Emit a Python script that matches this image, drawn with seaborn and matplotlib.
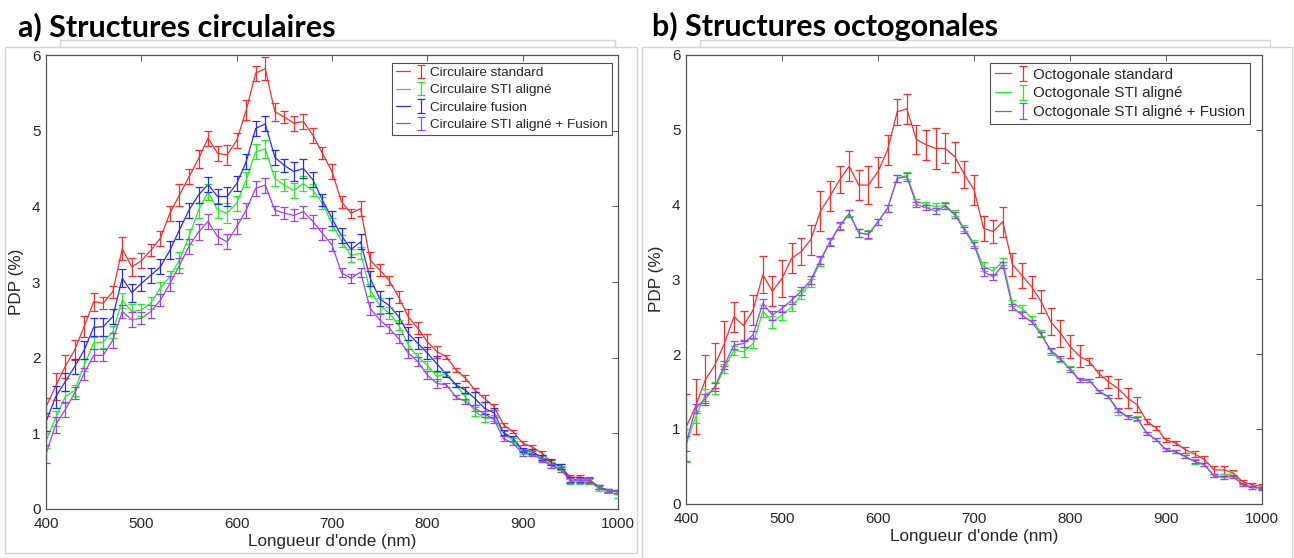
import numpy as np
import pandas as pd
import matplotlib
matplotlib.use("Agg")
import matplotlib.pyplot as plt
from matplotlib.lines import Line2D
from matplotlib.legend_handler import HandlerTuple
import seaborn as sns

# Longueurs d'onde (nm)
WAVELENGTHS = list(range(400, 1010, 10))

# a) Structures circulaires
CIRC_LABELS = ["Circulaire standard", "Circulaire STI aligné",
               "Circulaire fusion", "Circulaire STI aligné + Fusion"]
circ_standard = [1.35, 1.62, 1.88, 2.10, 2.41, 2.74, 2.72, 2.87, 3.44, 3.20,
                 3.28, 3.42, 3.58, 3.91, 4.15, 4.39, 4.63, 4.90, 4.70, 4.68,
                 4.87, 5.27, 5.76, 5.82, 5.25, 5.18, 5.10, 5.12, 4.94, 4.70,
                 4.46, 4.06, 3.91, 3.97, 3.29, 3.16, 3.02, 2.80, 2.54, 2.39,
                 2.21, 2.08, 2.01, 1.84, 1.73, 1.57, 1.46, 1.35, 1.11, 1.02,
                 0.87, 0.82, 0.74, 0.62, 0.56, 0.42, 0.42, 0.39, 0.29, 0.25, 0.23]
circ_standard_err = [0.12, 0.18, 0.15, 0.13, 0.14, 0.12, 0.08, 0.08, 0.15, 0.12,
                     0.10, 0.08, 0.10, 0.10, 0.14, 0.10, 0.12, 0.10, 0.10, 0.13,
                     0.10, 0.13, 0.10, 0.15, 0.12, 0.08, 0.10, 0.10, 0.10, 0.08,
                     0.10, 0.08, 0.06, 0.10, 0.10, 0.08, 0.06, 0.08, 0.10, 0.08,
                     0.10, 0.08, 0.03, 0.03, 0.04, 0.03, 0.05, 0.04, 0.03, 0.02,
                     0.03, 0.03, 0.03, 0.03, 0.03, 0.03, 0.03, 0.03, 0.03, 0.02, 0.02]
circ_sti = [0.90, 1.20, 1.48, 1.57, 1.90, 2.19, 2.21, 2.34, 2.76, 2.61,
            2.63, 2.72, 2.92, 3.07, 3.29, 3.60, 3.95, 4.19, 3.95, 3.91,
            4.04, 4.35, 4.72, 4.76, 4.37, 4.28, 4.21, 4.30, 4.21, 4.04,
            3.77, 3.54, 3.35, 3.38, 2.89, 2.69, 2.59, 2.43, 2.17, 2.01,
            1.90, 1.75, 1.79, 1.64, 1.48, 1.29, 1.20, 1.20, 1.00, 0.91,
            0.76, 0.75, 0.67, 0.58, 0.54, 0.36, 0.36, 0.36, 0.27, 0.23, 0.18]
circ_sti_err = [0.10, 0.10, 0.08, 0.07, 0.08, 0.08, 0.08, 0.08, 0.10, 0.10,
                0.08, 0.08, 0.08, 0.08, 0.10, 0.10, 0.10, 0.10, 0.10, 0.13,
                0.10, 0.10, 0.10, 0.12, 0.10, 0.08, 0.10, 0.10, 0.08, 0.08,
                0.08, 0.08, 0.08, 0.08, 0.08, 0.10, 0.08, 0.07, 0.06, 0.05,
                0.05, 0.06, 0.03, 0.03, 0.04, 0.06, 0.05, 0.04, 0.03, 0.03,
                0.03, 0.03, 0.03, 0.04, 0.03, 0.03, 0.03, 0.03, 0.03, 0.02, 0.03]
circ_fusion = [1.15, 1.48, 1.68, 1.88, 2.10, 2.40, 2.41, 2.54, 3.05, 2.86,
               2.98, 3.09, 3.20, 3.42, 3.69, 3.95, 4.15, 4.29, 4.13, 4.13,
               4.30, 4.59, 5.03, 5.09, 4.65, 4.54, 4.46, 4.50, 4.35, 4.08,
               3.84, 3.61, 3.43, 3.53, 3.05, 2.78, 2.69, 2.54, 2.32, 2.19,
               2.06, 1.92, 1.78, 1.64, 1.57, 1.46, 1.33, 1.27, 1.01, 0.93,
               0.78, 0.76, 0.68, 0.62, 0.56, 0.39, 0.39, 0.38, 0.29, 0.24, 0.23]
circ_fusion_err = [0.12, 0.14, 0.12, 0.10, 0.12, 0.12, 0.12, 0.10, 0.12, 0.12,
                   0.10, 0.10, 0.10, 0.12, 0.12, 0.10, 0.10, 0.10, 0.10, 0.12,
                   0.10, 0.10, 0.10, 0.10, 0.10, 0.08, 0.12, 0.12, 0.10, 0.08,
                   0.10, 0.10, 0.10, 0.10, 0.10, 0.10, 0.10, 0.08, 0.08, 0.08,
                   0.08, 0.10, 0.03, 0.03, 0.04, 0.08, 0.08, 0.06, 0.03, 0.03,
                   0.03, 0.03, 0.03, 0.04, 0.03, 0.03, 0.03, 0.03, 0.03, 0.02, 0.02]
circ_sti_fusion = [0.73, 1.11, 1.31, 1.53, 1.79, 2.03, 2.03, 2.23, 2.61, 2.50,
                   2.52, 2.61, 2.76, 2.98, 3.22, 3.47, 3.66, 3.80, 3.60, 3.53,
                   3.73, 3.95, 4.24, 4.28, 3.95, 3.91, 3.88, 3.93, 3.80, 3.64,
                   3.49, 3.12, 3.05, 3.13, 2.65, 2.50, 2.39, 2.25, 2.06, 1.95,
                   1.77, 1.66, 1.64, 1.48, 1.42, 1.33, 1.26, 1.18, 0.93, 0.87,
                   0.73, 0.73, 0.65, 0.57, 0.52, 0.38, 0.38, 0.38, 0.29, 0.24, 0.23]
circ_sti_fusion_err = [0.12, 0.10, 0.10, 0.08, 0.08, 0.08, 0.08, 0.10, 0.08, 0.10,
                       0.08, 0.08, 0.08, 0.10, 0.10, 0.10, 0.10, 0.10, 0.10, 0.10,
                       0.10, 0.10, 0.10, 0.10, 0.06, 0.08, 0.08, 0.08, 0.08, 0.08,
                       0.08, 0.06, 0.06, 0.06, 0.08, 0.08, 0.06, 0.06, 0.06, 0.06,
                       0.05, 0.06, 0.03, 0.03, 0.03, 0.04, 0.04, 0.04, 0.03, 0.03,
                       0.03, 0.03, 0.03, 0.03, 0.03, 0.03, 0.03, 0.03, 0.03, 0.02, 0.02]

# b) Structures octogonales
OCTO_LABELS = ["Octogonale standard", "Octogonale STI aligné",
               "Octogonale STI aligné + Fusion"]
octo_standard = [1.02, 1.30, 1.65, 1.85, 2.14, 2.50, 2.38, 2.59, 3.06, 2.84,
                 3.01, 3.28, 3.37, 3.53, 3.91, 4.11, 4.33, 4.51, 4.26, 4.26,
                 4.44, 4.73, 5.24, 5.28, 4.87, 4.80, 4.75, 4.75, 4.64, 4.40,
                 4.20, 3.68, 3.64, 3.77, 3.20, 3.05, 2.90, 2.70, 2.43, 2.28,
                 2.10, 1.97, 1.90, 1.74, 1.63, 1.54, 1.41, 1.32, 1.10, 1.01,
                 0.85, 0.81, 0.72, 0.66, 0.59, 0.45, 0.45, 0.41, 0.29, 0.25, 0.23]
octo_standard_err = [0.45, 0.37, 0.33, 0.30, 0.30, 0.20, 0.20, 0.20, 0.25, 0.20,
                     0.25, 0.20, 0.18, 0.20, 0.27, 0.20, 0.18, 0.20, 0.20, 0.25,
                     0.20, 0.20, 0.17, 0.20, 0.20, 0.20, 0.27, 0.20, 0.20, 0.18,
                     0.20, 0.17, 0.15, 0.20, 0.15, 0.17, 0.15, 0.15, 0.18, 0.18,
                     0.15, 0.15, 0.05, 0.05, 0.08, 0.13, 0.13, 0.10, 0.03, 0.03,
                     0.03, 0.03, 0.04, 0.04, 0.05, 0.05, 0.05, 0.04, 0.03, 0.03, 0.03]
octo_sti = [0.78, 1.16, 1.45, 1.54, 1.81, 2.05, 2.03, 2.14, 2.57, 2.43,
            2.52, 2.63, 2.79, 2.95, 3.24, 3.50, 3.71, 3.88, 3.62, 3.60,
            3.77, 3.95, 4.35, 4.39, 4.04, 4.00, 3.97, 3.99, 3.88, 3.68,
            3.48, 3.17, 3.11, 3.24, 2.68, 2.61, 2.48, 2.28, 2.03, 1.92,
            1.81, 1.65, 1.65, 1.50, 1.43, 1.23, 1.16, 1.14, 0.94, 0.85,
            0.72, 0.69, 0.63, 0.56, 0.52, 0.37, 0.36, 0.41, 0.25, 0.22, 0.20]
octo_sti_err = [0.22, 0.08, 0.08, 0.08, 0.06, 0.06, 0.07, 0.06, 0.08, 0.08,
                0.06, 0.06, 0.06, 0.06, 0.06, 0.04, 0.04, 0.04, 0.05, 0.06,
                0.04, 0.05, 0.05, 0.05, 0.04, 0.04, 0.05, 0.05, 0.04, 0.04,
                0.04, 0.06, 0.05, 0.05, 0.04, 0.04, 0.03, 0.04, 0.04, 0.03,
                0.03, 0.03, 0.02, 0.02, 0.02, 0.04, 0.03, 0.03, 0.02, 0.02,
                0.02, 0.02, 0.02, 0.03, 0.02, 0.02, 0.03, 0.03, 0.02, 0.02, 0.02]
octo_sti_fusion = [0.80, 1.27, 1.40, 1.56, 1.85, 2.12, 2.14, 2.26, 2.68, 2.52,
                   2.61, 2.72, 2.84, 2.99, 3.26, 3.50, 3.71, 3.88, 3.62, 3.60,
                   3.77, 3.95, 4.35, 4.37, 4.00, 3.96, 3.91, 3.98, 3.86, 3.66,
                   3.46, 3.10, 3.03, 3.19, 2.63, 2.52, 2.43, 2.26, 2.05, 1.94,
                   1.79, 1.65, 1.65, 1.50, 1.43, 1.25, 1.16, 1.14, 0.94, 0.85,
                   0.72, 0.69, 0.63, 0.56, 0.52, 0.37, 0.35, 0.36, 0.25, 0.22, 0.20]
octo_sti_fusion_err = [0.10, 0.06, 0.06, 0.05, 0.05, 0.05, 0.05, 0.05, 0.06, 0.06,
                       0.05, 0.05, 0.05, 0.05, 0.05, 0.05, 0.05, 0.05, 0.05, 0.05,
                       0.04, 0.05, 0.05, 0.05, 0.04, 0.04, 0.04, 0.04, 0.04, 0.04,
                       0.04, 0.05, 0.04, 0.04, 0.04, 0.04, 0.03, 0.03, 0.03, 0.03,
                       0.03, 0.03, 0.02, 0.02, 0.02, 0.03, 0.03, 0.02, 0.02, 0.02,
                       0.02, 0.02, 0.02, 0.02, 0.02, 0.02, 0.02, 0.02, 0.02, 0.02, 0.02]

COLORS = {"standard": "#ff2a2a", "sti": "#22ee22", "fusion": "#2a2aff",
          "sti_fusion": "#9a40ff"}

sns.set_theme(style="white")
plt.rcParams["font.family"] = ["Liberation Sans", "DejaVu Sans"]
plt.rcParams["axes.edgecolor"] = "#555555"
plt.rcParams["xtick.color"] = "#555555"
plt.rcParams["ytick.color"] = "#555555"
plt.rcParams["xtick.labelcolor"] = "#262626"
plt.rcParams["ytick.labelcolor"] = "#262626"


def draw_panel(ax, series, labels, colors, leg_anchor, leg_size, leg_spacing):
    df = pd.concat([
        pd.DataFrame({"nm": WAVELENGTHS, "pdp": vals, "err": err, "serie": lab})
        for (vals, err), lab in zip(series, labels)
    ])
    palette = dict(zip(labels, colors))
    sns.lineplot(data=df, x="nm", y="pdp", hue="serie", palette=palette,
                 linewidth=0.9, legend=False, ax=ax, errorbar=None, sort=False)
    handles = []
    for line, lab in zip(ax.lines, labels):
        sub = df[df["serie"] == lab]
        cont = ax.errorbar(sub["nm"], sub["pdp"], yerr=sub["err"], fmt="none",
                           ecolor=palette[lab], elinewidth=0.9, capsize=2.6,
                           capthick=0.9)
        handles.append((line, cont))
    ax.set_xlim(400, 1000)
    ax.set_ylim(0, 6)
    ax.set_xticks(range(400, 1001, 100))
    ax.set_yticks(range(0, 7))
    ax.tick_params(direction="in", length=4, width=0.7, top=True, right=True,
                   labelsize=11, pad=4)
    ax.tick_params(axis="x", pad=6)
    for sp in ax.spines.values():
        sp.set_linewidth(0.9)
    ax.set_xlabel("Longueur d'onde (nm)", fontsize=12.3, color="#262626", labelpad=2)
    ax.set_ylabel("PDP (%)", fontsize=12.3, color="#262626", labelpad=6)
    leg = ax.legend(handles, labels, handler_map={tuple: HandlerTuple(ndivide=None)},
                    loc="upper right", bbox_to_anchor=leg_anchor, fontsize=leg_size,
                    frameon=True, fancybox=False, edgecolor="#222222",
                    borderpad=0.3, labelspacing=leg_spacing, handlelength=2.4,
                    handletextpad=0.15, borderaxespad=0)
    leg.get_frame().set_linewidth(0.8)


fig = plt.figure(figsize=(12.94, 5.58), dpi=100)
W, H = 1294, 558

ax1 = fig.add_axes([46 / W, 1 - 509 / H, 572 / W, 454 / H])
draw_panel(ax1,
           [(circ_standard, circ_standard_err), (circ_sti, circ_sti_err),
            (circ_fusion, circ_fusion_err), (circ_sti_fusion, circ_sti_fusion_err)],
           CIRC_LABELS,
           [COLORS["standard"], COLORS["sti"], COLORS["fusion"], COLORS["sti_fusion"]],
           (0.989, 0.983), 9.7, 0.36)

ax2 = fig.add_axes([686 / W, 1 - 503.5 / H, 576 / W, 448.5 / H])
draw_panel(ax2,
           [(octo_standard, octo_standard_err), (octo_sti, octo_sti_err),
            (octo_sti_fusion, octo_sti_fusion_err)],
           OCTO_LABELS,
           [COLORS["standard"], COLORS["sti"], COLORS["sti_fusion"]],
           (0.979, 0.982), 10.9, 0.32)

# Cadres gris des figures
frame_kw = dict(color="#d4d4d4", linewidth=1.0, transform=fig.transFigure)
for (x0, x1, y0, y1) in [(5, 637, 47, 553), (642, 1292, 47, 560)]:
    fig.add_artist(Line2D([x0 / W, x1 / W, x1 / W, x0 / W, x0 / W],
                          [1 - y0 / H, 1 - y0 / H, 1 - y1 / H, 1 - y1 / H, 1 - y0 / H],
                          **frame_kw))
for (x0, x1) in [(60, 615), (700, 1270)]:
    fig.add_artist(Line2D([x0 / W, x0 / W, x1 / W, x1 / W],
                          [1 - 46 / H, 1 - 40 / H, 1 - 40 / H, 1 - 46 / H], **frame_kw))

fig.text(18 / W, 1 - 36 / H, "a) Structures circulaires", fontsize=22,
         fontweight="bold", family=["Lato", "DejaVu Sans"], color="black")
fig.text(652 / W, 1 - 36 / H, "b) Structures octogonales", fontsize=22,
         fontweight="bold", family=["Lato", "DejaVu Sans"], color="black")

fig.savefig("out.png", dpi=100)
